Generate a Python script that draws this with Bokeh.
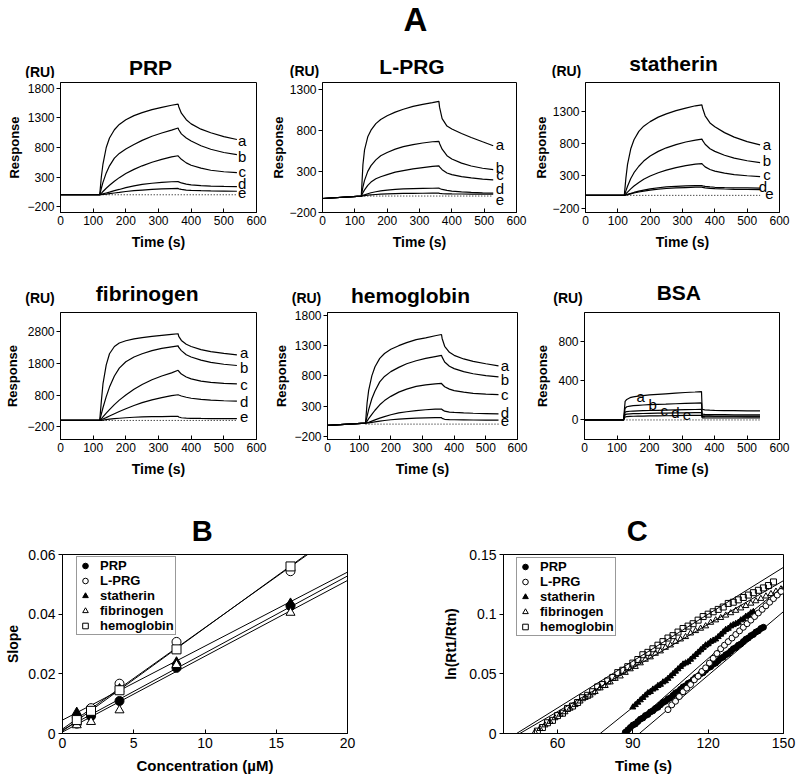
from bokeh.plotting import figure
from bokeh.models import Label, FixedTicker, Legend, LegendItem, PrintfTickFormatter, Range1d
from bokeh.layouts import column, row
from bokeh.embed import file_html
from bokeh.resources import INLINE
from bokeh.core.properties import value

FONT = "Liberation Sans"

# ---------------- Panel A: sensorgrams (Response RU vs Time s) ----------------
T = [0, 120, 125, 130, 140, 150, 165, 180, 200, 225, 250, 280, 310, 340, 360, 362, 370, 385, 400, 430, 460, 500, 540]
T_LPRG = [0, 120, 125, 130, 140, 150, 165, 180, 200, 225, 250, 280, 310, 340, 360, 362, 370, 385, 400, 430, 460, 495, 528]
CURVE_LABELS = ["a", "b", "c", "d", "e"]

PRP_A = [0, 0, 300, 520, 800, 960, 1100, 1190, 1270, 1340, 1390, 1440, 1480, 1515, 1535, 1490, 1380, 1270, 1200, 1110, 1050, 985, 935]
PRP_B = [0, 0, 110, 210, 370, 490, 620, 700, 775, 850, 920, 990, 1045, 1095, 1130, 1100, 1030, 960, 910, 830, 770, 715, 680]
PRP_C = [0, 0, 25, 55, 110, 160, 230, 290, 360, 430, 490, 550, 600, 640, 660, 645, 600, 540, 500, 450, 415, 390, 375]
PRP_D = [0, 0, 7, 15, 30, 45, 70, 90, 120, 150, 175, 195, 210, 220, 225, 218, 200, 180, 168, 155, 148, 142, 138]
PRP_E = [0, 0, 2, 5, 12, 20, 30, 40, 55, 70, 80, 92, 100, 105, 107, 100, 90, 80, 75, 70, 66, 63, 60]

LPRG_A = [-30, 0, 380, 560, 720, 800, 880, 930, 975, 1020, 1055, 1090, 1115, 1135, 1150, 1080, 940, 850, 815, 760, 712, 660, 612]
LPRG_B = [-30, 0, 110, 190, 300, 370, 440, 490, 530, 570, 600, 625, 645, 660, 665, 640, 570, 490, 450, 400, 365, 338, 320]
LPRG_C = [-30, 0, 40, 75, 130, 170, 210, 235, 260, 290, 310, 330, 345, 360, 367, 355, 320, 280, 260, 235, 220, 206, 197]
LPRG_D = [-30, 0, 8, 15, 28, 40, 52, 62, 72, 80, 86, 90, 93, 95, 96, 92, 80, 68, 60, 50, 44, 39, 35]
LPRG_E = [-30, 0, 3, 6, 10, 14, 19, 23, 27, 30, 32, 33, 34, 35, 35, 33, 30, 27, 26, 25, 24, 23, 22]

STA_A = [0, 0, 270, 480, 720, 860, 990, 1070, 1140, 1210, 1260, 1310, 1350, 1385, 1400, 1350, 1230, 1120, 1060, 970, 900, 830, 780]
STA_B = [0, 0, 70, 140, 260, 350, 450, 530, 610, 680, 735, 785, 825, 855, 870, 850, 790, 720, 680, 620, 575, 535, 505]
STA_C = [0, 0, 25, 50, 100, 145, 200, 250, 300, 350, 390, 430, 460, 482, 492, 480, 440, 400, 375, 345, 320, 303, 290]
STA_D = [0, 0, 8, 16, 30, 45, 65, 80, 100, 118, 130, 140, 146, 149, 150, 146, 138, 130, 125, 120, 117, 115, 113]
STA_E = [0, 0, 6, 12, 24, 36, 52, 66, 82, 96, 106, 115, 121, 126, 128, 124, 116, 108, 104, 98, 94, 91, 88]

FIB_A = [0, 0, 600, 1150, 1750, 2100, 2330, 2440, 2510, 2570, 2610, 2650, 2680, 2710, 2730, 2650, 2520, 2400, 2330, 2230, 2170, 2110, 2065]
FIB_B = [0, 0, 200, 400, 750, 1050, 1400, 1650, 1850, 2000, 2100, 2200, 2270, 2320, 2350, 2300, 2200, 2070, 2000, 1900, 1830, 1770, 1730]
FIB_C = [0, 0, 50, 110, 230, 340, 500, 640, 800, 980, 1130, 1280, 1400, 1500, 1580, 1550, 1460, 1370, 1310, 1240, 1200, 1170, 1150]
FIB_D = [0, 0, 20, 45, 90, 140, 210, 280, 370, 470, 560, 650, 720, 780, 810, 800, 770, 730, 700, 665, 640, 620, 606]
FIB_E = [0, 0, 5, 10, 25, 40, 55, 70, 85, 100, 110, 118, 122, 126, 128, 110, 85, 72, 68, 63, 60, 57, 55]

HEM_A = [-20, 15, 350, 560, 800, 950, 1090, 1170, 1240, 1300, 1350, 1400, 1430, 1465, 1485, 1420, 1290, 1190, 1140, 1080, 1040, 1000, 965]
HEM_B = [-20, 15, 130, 240, 420, 550, 700, 790, 870, 940, 1000, 1050, 1090, 1120, 1140, 1110, 1030, 960, 920, 870, 835, 805, 782]
HEM_C = [-20, 15, 50, 90, 160, 230, 320, 390, 460, 530, 580, 625, 650, 668, 675, 660, 620, 580, 555, 530, 510, 498, 489]
HEM_D = [-20, 15, 22, 30, 50, 70, 100, 125, 155, 185, 205, 225, 238, 247, 250, 240, 215, 200, 193, 185, 180, 175, 171]
HEM_E = [-20, 15, 18, 22, 30, 38, 50, 60, 72, 83, 92, 98, 103, 106, 108, 95, 80, 75, 72, 70, 68, 66, 65]

BSA_A = [0, 0, 190, 210, 228, 236, 244, 250, 256, 262, 268, 275, 281, 286, 290, 110, 104, 100, 98, 96, 95, 93, 92]
BSA_B = [0, 0, 120, 135, 142, 146, 150, 153, 156, 159, 162, 166, 169, 172, 174, 60, 57, 55, 54, 54, 53, 53, 53]
BSA_C = [0, 0, 80, 86, 89, 91, 93, 95, 97, 99, 101, 103, 105, 107, 108, 45, 42, 41, 40, 40, 39, 39, 39]
BSA_D = [0, 0, 55, 60, 62, 64, 65, 66, 68, 69, 70, 72, 73, 75, 76, 36, 34, 33, 33, 33, 33, 32, 32]
BSA_E = [0, 0, 30, 34, 36, 38, 39, 40, 41, 42, 43, 45, 46, 47, 48, 22, 21, 20, 20, 20, 20, 20, 20]

# curve-letter annotation positions (time, RU)
PRP_LAB_T = [556, 556, 556, 556, 556]
PRP_LAB_Y = [916, 654, 402, 196, 22]
LPRG_LAB_T = [549, 549, 549, 549, 549]
LPRG_LAB_Y = [622, 351, 258, 96, -46]
STA_LAB_T = [561, 561, 561, 549, 569]
STA_LAB_Y = [785, 543, 316, 139, 27]
FIB_LAB_T = [562, 562, 562, 562, 562]
FIB_LAB_Y = [2135, 1656, 1147, 606, 96]
HEM_LAB_T = [560, 560, 560, 560, 560]
HEM_LAB_Y = [977, 743, 489, 198, 55]
BSA_LAB_T = [173, 210, 245, 280, 315]
BSA_LAB_Y = [240, 158, 99, 76, 53]

# ---------------- Panel B: slope vs concentration ----------------
SERIES = ["PRP", "L-PRG", "statherin", "fibrinogen", "hemoglobin"]
CONC = [1, 2, 4, 8, 16]
B_PRP = [0.0055, 0.0058, 0.0109, 0.0220, 0.0427]
B_LPRG = [0.0033, 0.0085, 0.0167, 0.0307, 0.0544]
B_STA = [0.0071, 0.0066, 0.0150, 0.0240, 0.0437]
B_FIB = [0.0028, 0.0039, 0.0078, 0.0230, 0.0405]
B_HEM = [0.0045, 0.0076, 0.0145, 0.0282, 0.0560]
B_FIT_SLOPE = [0.00258, 0.00340, 0.00248, 0.00254, 0.00346]
B_FIT_INTERCEPT = [0.0012, 0.0015, 0.0045, 0.0005, 0.0008]

# ---------------- Panel C: ln(Rt1/Rtn) vs time ----------------
C_HEM_T = [52, 54, 56, 58, 60, 62, 64, 66, 68, 70, 72, 74, 76, 78, 80, 82, 84, 86, 88, 90, 92, 94, 96, 98,
           100, 102, 104, 106, 108, 110, 112, 114, 116, 118, 120, 122, 124, 126, 128, 130, 132, 134, 136, 138,
           140, 142, 144, 146]
C_HEM = [.002, .005, .009, .011, .015, .017, .021, .023, .026, .030, .032, .035, .039, .041, .044, .047, .051, .053,
         .056, .059, .062, .066, .068, .071, .074, .077, .080, .082, .085, .088, .090, .092, .095, .098, .100, .102,
         .104, .106, .109, .110, .112, .114, .116, .118, .120, .122, .124, .127]
C_FIB_T = [51, 53, 55, 57, 59, 61, 63, 65, 67, 69, 71, 73, 75, 77, 79, 81, 83, 85, 87, 89, 91, 93, 95, 97, 99,
           101, 103, 105, 107, 109, 111, 113, 115, 117, 119, 121, 123, 125, 127, 129, 131, 133, 135, 137, 139,
           141, 143, 145, 147, 149]
C_FIB = [.001, .004, .007, .010, .013, .016, .018, .021, .024, .027, .030, .032, .035, .038, .040, .043, .046, .048,
         .051, .054, .056, .059, .062, .064, .067, .069, .072, .074, .077, .079, .081, .084, .086, .088, .090, .093,
         .095, .097, .099, .101, .103, .105, .107, .109, .111, .113, .115, .117, .119, .121]
C_STA_T = [90, 91, 92, 93, 94, 95, 96, 97, 98, 99, 100, 101, 102, 103, 104, 105, 106, 107, 108, 109, 110, 111, 112,
           113, 114, 115, 116, 117, 118, 119, 120, 121, 122, 123, 124, 125, 126, 127, 128, 129, 130, 131, 132, 133,
           134, 135, 136, 137, 138]
C_STA = [.022, .024, .026, .028, .030, .032, .034, .035, .037, .038, .040, .041, .043, .044, .046, .048, .050, .052,
         .054, .056, .058, .059, .060, .062, .064, .066, .068, .070, .072, .074, .075, .077, .078, .079, .081, .083,
         .085, .087, .088, .090, .091, .092, .093, .095, .096, .098, .099, .101, .102]
C_PRP_T = [87, 88, 89, 90, 91, 92, 93, 94, 95, 96, 97, 98, 99, 100, 101, 102, 103, 104, 105, 106, 107, 108, 109,
           110, 111, 112, 113, 114, 115, 116, 117, 118, 119, 120, 121, 122, 123, 124, 125, 126, 127, 128, 129, 130,
           131, 132, 133, 134, 135, 136, 137, 138, 139, 140, 141, 142]
C_PRP = [.001, .003, .005, .007, .008, .010, .012, .013, .015, .016, .018, .019, .021, .022, .024, .026, .027, .029,
         .030, .032, .034, .035, .037, .039, .040, .042, .043, .045, .047, .048, .050, .051, .053, .055, .056, .058,
         .059, .061, .063, .064, .066, .067, .069, .071, .072, .074, .075, .077, .079, .080, .082, .083, .085, .086,
         .088, .089]
C_LPRG_T = [104, 105.5, 107, 108.5, 110, 111.5, 113, 114.5, 116, 117.5, 119, 120.5, 122, 123.5, 125, 126.5, 128,
            129.5, 131, 132.5, 134, 135.5, 137, 138.5, 140, 141.5, 143, 144.5, 146, 147.5, 149]
C_LPRG = [.020, .024, .027, .031, .035, .038, .041, .045, .048, .052, .055, .059, .063, .067, .071, .074, .077,
          .080, .083, .086, .089, .092, .095, .098, .101, .104, .107, .110, .113, .116, .119]
# fitted lines: time where ln(Rt1/Rtn)=0, and slope (per s); order as SERIES
C_FIT_T0 = [92.6, 86.0, 77.0, 45.0, 43.7]
C_FIT_SLOPE = [0.00178, 0.00185, 0.00169, 0.00122, 0.00131]


# ---------------- helpers ----------------
def base_fig(w, h, xr, yr, ml, mr, mt, mb):
    p = figure(width=w, height=h, x_range=Range1d(*xr), y_range=Range1d(*yr),
               output_backend="svg", toolbar_location=None,
               min_border_left=ml, min_border_right=mr, min_border_top=mt, min_border_bottom=mb)
    p.title.visible = False
    p.xgrid.visible = False
    p.ygrid.visible = False
    p.outline_line_color = "black"
    p.outline_line_width = 1
    p.outline_line_alpha = 1
    p.background_fill_color = "white"
    p.border_fill_color = "white"
    for ax in (p.xaxis[0], p.yaxis[0]):
        ax.axis_line_color = "black"
        ax.major_tick_line_color = "black"
        ax.minor_tick_line_color = None
        ax.major_label_text_font = FONT
        ax.major_label_text_color = "black"
        ax.axis_label_text_font = FONT
        ax.axis_label_text_font_style = "bold"
        ax.axis_label_text_color = "black"
    p.xaxis.major_tick_in = 4
    p.xaxis.major_tick_out = 0
    p.yaxis.major_tick_in = 0
    p.yaxis.major_tick_out = 4
    return p


def band(top, bottom, texts):
    """A strip with no axes whose data units equal page pixels; holds the free-floating titles."""
    p = figure(width=800, height=bottom - top, x_range=Range1d(0, 800), y_range=Range1d(bottom, top),
               x_axis_type=None, y_axis_type=None, output_backend="svg", toolbar_location=None,
               min_border_left=0, min_border_right=0, min_border_top=0, min_border_bottom=0)
    p.title.visible = False
    p.outline_line_color = None
    p.background_fill_color = "white"
    p.border_fill_color = "white"
    for x, y, txt, size in texts:
        p.add_layout(Label(x=x, y=y, text=txt, text_font=FONT, text_font_size=size, text_font_style="bold",
                           text_align="center", text_baseline="middle", text_color="black"))
    return p


def sensorgram(t, curves, yr, yticks, lab_t, lab_y, geom, ylab_standoff):
    w, h, ml, mr, mt, mb = geom
    p = base_fig(w, h, (0, 600), yr, ml, mr, mt, mb)
    p.xaxis.ticker = FixedTicker(ticks=[0, 100, 200, 300, 400, 500, 600])
    p.yaxis.ticker = FixedTicker(ticks=yticks)
    p.xaxis.major_label_text_font_size = "12px"
    p.yaxis.major_label_text_font_size = "12px"
    p.xaxis.major_label_standoff = 3
    p.yaxis.major_label_standoff = 2
    p.xaxis.axis_label = "Time (s)"
    p.yaxis.axis_label = "Response"
    p.xaxis.axis_label_text_font_size = "14px"
    p.yaxis.axis_label_text_font_size = "13px"
    p.xaxis.axis_label_standoff = 6
    p.yaxis.axis_label_standoff = ylab_standoff
    p.line([t[1], t[-1]], [0, 0], line_color="black", line_width=1, line_dash="1 2")
    for ys in curves:
        p.line(t, ys, line_color="black", line_width=1.2)
    p.text(x=lab_t, y=lab_y, text=CURVE_LABELS, text_font=value(FONT), text_font_size="15px",
           text_align="center", text_baseline="middle", text_color="black")
    return p


# ---------------- band + row 1 ----------------
band1 = band(0, 78, [(415, 19, "A", "33px"),
                     (150, 66.5, "PRP", "21px"), (39.5, 71, "(RU)", "14px"),
                     (411.5, 66, "L-PRG", "21px"), (304, 70.5, "(RU)", "14px"),
                     (673, 63, "statherin", "21px"), (566, 70, "(RU)", "14px")])
p1 = sensorgram(T, [PRP_A, PRP_B, PRP_C, PRP_D, PRP_E], (-300, 1900), [-200, 300, 800, 1300, 1800],
                PRP_LAB_T, PRP_LAB_Y, (268, 177, 60, 12, 4, 43), 2)
p2 = sensorgram(T_LPRG, [LPRG_A, LPRG_B, LPRG_C, LPRG_D, LPRG_E], (-200, 1380), [-200, 300, 800, 1300],
                LPRG_LAB_T, LPRG_LAB_Y, (263, 177, 52, 15, 4, 43), 0)
p3 = sensorgram(T, [STA_A, STA_B, STA_C, STA_D, STA_E], (-265, 1745), [-200, 300, 800, 1300],
                STA_LAB_T, STA_LAB_Y, (260, 177, 52, 12, 1, 43), 0)

# ---------------- band + row 2 ----------------
band2 = band(255, 307, [(146.7, 292.5, "fibrinogen", "21px"), (39.5, 297.5, "(RU)", "14px"),
                        (410, 294.5, "hemoglobin", "21px"), (306, 297.5, "(RU)", "14px"),
                        (678.3, 291.7, "BSA", "21px"), (567.5, 297.5, "(RU)", "14px")])
p4 = sensorgram(T, [FIB_A, FIB_B, FIB_C, FIB_D, FIB_E], (-600, 3400), [-200, 800, 1800, 2800],
                FIB_LAB_T, FIB_LAB_Y, (271, 183, 60, 15, 2, 51), 4)
p5 = sensorgram(T, [HEM_A, HEM_B, HEM_C, HEM_D, HEM_E], (-255, 1850), [-200, 300, 800, 1300, 1800],
                HEM_LAB_T, HEM_LAB_Y, (261, 183, 52, 15, 5, 47), 2)
p6 = sensorgram(T, [BSA_A, BSA_B, BSA_C, BSA_D, BSA_E], (-200, 1100), [0, 400, 800],
                BSA_LAB_T, BSA_LAB_Y, (259, 183, 52, 12, 1, 51), 5)


def style_bc(p, xlabel, ylabel, ylab_standoff):
    p.xaxis.major_label_text_font_size = "14px"
    p.yaxis.major_label_text_font_size = "14px"
    p.xaxis.major_label_standoff = 4
    p.yaxis.major_label_standoff = 3
    p.xaxis.axis_label = xlabel
    p.yaxis.axis_label = ylabel
    p.xaxis.axis_label_text_font_size = "15px"
    p.yaxis.axis_label_text_font_size = "14px"
    p.xaxis.axis_label_standoff = 6
    p.yaxis.axis_label_standoff = ylab_standoff
    p.yaxis.formatter = PrintfTickFormatter(format="%g")


def make_legend(p, renderers, loc):
    leg = Legend(items=[LegendItem(label=n, renderers=[r]) for n, r in zip(SERIES, renderers)],
                 location=loc, orientation="vertical", margin=0, padding=1, spacing=0,
                 glyph_width=14, glyph_height=15, label_height=15, label_standoff=8,
                 label_text_font=FONT, label_text_font_size="13px", label_text_font_style="bold",
                 label_text_color="black", border_line_color="#333333", border_line_width=1,
                 background_fill_color="white", background_fill_alpha=1)
    p.add_layout(leg)


MARKERS = [("circle", "black"), ("circle", "white"), ("triangle", "black"), ("triangle", "white"), ("square", "white")]

# ---------------- band + row 3 ----------------
band3 = band(490, 547, [(201.7, 530.5, "B", "29px"), (636.7, 530.5, "C", "29px")])

pB = base_fig(440, 231, (0, 20), (0, 0.06), 62, 93, 7, 45)
pB.xaxis.ticker = FixedTicker(ticks=[0, 5, 10, 15, 20])
pB.yaxis.ticker = FixedTicker(ticks=[0, 0.02, 0.04, 0.06])
style_bc(pB, "Concentration (\u00b5M)", "Slope", 4)
for s, b in zip(B_FIT_SLOPE, B_FIT_INTERCEPT):
    pB.line([0, 20], [b, b + s * 20], line_color="black", line_width=1)
rendB = []
for ys, (m, fc) in zip([B_PRP, B_LPRG, B_STA, B_FIB, B_HEM], MARKERS):
    rendB.append(pB.scatter(CONC, ys, marker=m, size=9, fill_color=fc, line_color="black", line_width=1))
make_legend(pB, rendB, (14, 98))

pC = base_fig(357, 231, (38.5, 150), (0, 0.15), 58, 14, 7, 45)
pC.xaxis.ticker = FixedTicker(ticks=[60, 90, 120, 150])
pC.yaxis.ticker = FixedTicker(ticks=[0, 0.05, 0.1, 0.15])
style_bc(pC, "Time (s)", "ln(Rt1/Rtn)", 7)
for t0, s in zip(C_FIT_T0, C_FIT_SLOPE):
    pC.line([t0, 150], [0, s * (150 - t0)], line_color="black", line_width=1)
c_data = [(C_PRP_T, C_PRP), (C_LPRG_T, C_LPRG), (C_STA_T, C_STA), (C_FIB_T, C_FIB), (C_HEM_T, C_HEM)]
c_fill = ["black", "white", "black", None, None]
rendC = [None] * 5
for i in [3, 4, 2, 0, 1]:
    (xs, ys), (m, _) = c_data[i], MARKERS[i]
    rendC[i] = pC.scatter(xs, ys, marker=m, size=6, fill_color=c_fill[i], line_color="black", line_width=1)
make_legend(pC, rendC, (13, 97))

layout = column(band1, row(p1, p2, p3), band2, row(p4, p5, p6), band3, row(pB, pC))
open("out.html", "w").write(file_html(layout, INLINE, title="Figure"))
